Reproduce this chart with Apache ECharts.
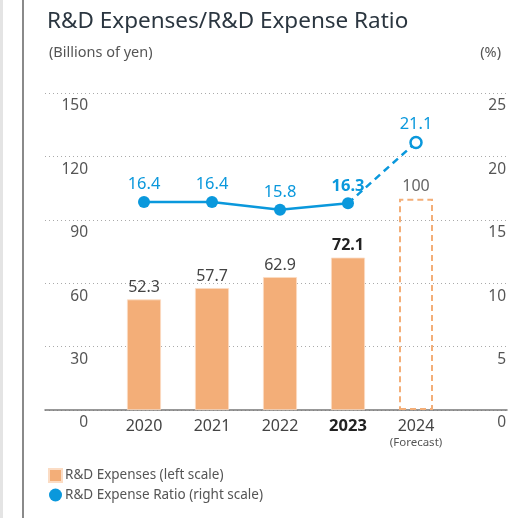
<!DOCTYPE html>
<html><head><meta charset="utf-8">
<script src="https://cdn.jsdelivr.net/npm/echarts@6/dist/echarts.min.js"></script>
<style>html,body{margin:0;padding:0;background:#fff}#c{width:513px;height:518px}</style>
</head><body><div id="c"></div>
<script>
const years = ['2020','2021','2022','2023','2024'];
const expenses = [52.3, 57.7, 62.9, 72.1, 100];
const ratio = [16.4, 16.4, 15.8, 16.3, 21.1];
const leftTicks = [0, 30, 60, 90, 120, 150];
const rightTicks = [0, 5, 10, 15, 20, 25];

const FONT = "'Noto Sans', 'Open Sans', sans-serif";
const ORANGE = '#f3ae78';
const BLUE = '#0a98dc';
const GRAY = '#555';
const boldIdx = 3, fcIdx = 4;

const chart = echarts.init(document.getElementById('c'));
const gTop = 93, gBottom = 108;

const barData = expenses.map((v, i) => {
  if (i === fcIdx) return {value: v, itemStyle: {color: 'rgba(255,255,255,0)', borderColor: ORANGE, borderWidth: 2, borderType: [6, 4]}, label: {color: '#666'}};
  if (i === boldIdx) return {value: v, label: {fontWeight: 'bold', color: '#222'}};
  return v;
});
const solidLine = ratio.map((v, i) => {
  if (i === fcIdx) return null;
  if (i === boldIdx) return {value: v, label: {fontWeight: 'bold'}};
  return v;
});
const dashLine = ratio.map((v, i) => {
  if (i < boldIdx) return null;
  if (i === boldIdx) return {value: v, symbol: 'none', label: {show: false}};
  return v;
});

chart.setOption({
  animation: false,
  textStyle: {fontFamily: FONT},
  title: [
    {text: 'R&D Expenses/R&D Expense Ratio', left: 42, top: 5, textStyle: {fontSize: 22.5, fontWeight: 'normal', color: '#2b3640', fontFamily: FONT}},
    {text: '(Billions of yen)', left: 44, top: 40, textStyle: {fontSize: 14.5, fontWeight: 'normal', color: GRAY, fontFamily: FONT}},
    {text: '(%)', right: 7, top: 40, textStyle: {fontSize: 14.5, fontWeight: 'normal', color: GRAY, fontFamily: FONT}}
  ],
  legend: {
    orient: 'vertical', left: 43, top: 463, itemGap: 5, itemWidth: 13, itemHeight: 13,
    textStyle: {fontSize: 13.5, color: GRAY, fontFamily: FONT, padding: [0, 0, 0, -2]},
    data: [
      {name: 'R&D Expenses (left scale)', icon: 'rect'},
      {name: 'R&D Expense Ratio (right scale)', icon: 'circle', itemStyle: {color: BLUE, borderWidth: 0}}
    ]
  },
  graphic: [
    {type: 'rect', shape: {x: 0, y: 0, width: 3, height: 518}, style: {fill: '#e4e4e4'}, silent: true},
    {type: 'rect', shape: {x: 22, y: 0, width: 2, height: 518}, style: {fill: '#8a8a8a'}, silent: true}
  ],
  grid: [
    {left: 45, right: 6, top: gTop, bottom: gBottom},
    {left: 110, right: 63, top: gTop, bottom: gBottom}
  ],
  xAxis: [
    {gridIndex: 0, type: 'category', data: [''], axisLine: {lineStyle: {color: '#777', width: 1.5}}, axisTick: {show: false}, axisLabel: {show: false}},
    {gridIndex: 1, type: 'category', data: years, axisLine: {show: false}, axisTick: {show: false},
      axisLabel: {interval: 0, margin: 6, fontSize: 16, color: '#444', fontFamily: FONT,
        formatter: (v, i) => i === boldIdx ? '{b|' + v + '}' : (i === fcIdx ? v + '\n{f|(Forecast)}' : v),
        lineHeight: 20,
        rich: {b: {fontSize: 16.5, fontWeight: 'bold', color: '#222', fontFamily: FONT}, f: {fontSize: 11.5, color: GRAY, lineHeight: 14, fontFamily: FONT}}}}
  ],
  yAxis: [
    {gridIndex: 0, type: 'value', min: leftTicks[0], max: leftTicks[leftTicks.length - 1], interval: 30, position: 'left',
      axisLine: {show: false}, axisTick: {show: false},
      splitLine: {show: true, lineStyle: {type: [1, 3], color: '#aaa', width: 1}},
      axisLabel: {inside: true, margin: 43, align: 'right', verticalAlign: 'top', padding: [5, 0, 0, 0], fontSize: 15.5, color: GRAY, fontFamily: FONT}},
    {gridIndex: 0, type: 'value', min: rightTicks[0], max: rightTicks[rightTicks.length - 1], interval: 5, position: 'right',
      axisLine: {show: false}, axisTick: {show: false}, splitLine: {show: false},
      axisLabel: {inside: true, margin: 1, align: 'right', verticalAlign: 'top', padding: [5, 0, 0, 0], fontSize: 15.5, color: GRAY, fontFamily: FONT}},
    {gridIndex: 1, type: 'value', min: 0, max: 150, show: false},
    {gridIndex: 1, type: 'value', min: 0, max: 25, show: false}
  ],
  series: [
    {name: 'R&D Expenses (left scale)', type: 'bar', xAxisIndex: 1, yAxisIndex: 2, data: barData, barWidth: 34,
      itemStyle: {color: ORANGE, borderColor: '#fbdcc4', borderWidth: 0.8},
      label: {show: true, position: 'top', distance: 4, fontSize: 16, color: '#444', fontFamily: FONT}},
    {name: 'R&D Expense Ratio (right scale)', type: 'line', xAxisIndex: 1, yAxisIndex: 3, data: solidLine,
      symbol: 'circle', symbolSize: 12, lineStyle: {color: BLUE, width: 2.5}, itemStyle: {color: BLUE},
      label: {show: true, position: 'top', distance: 3, fontSize: 16.5, color: BLUE, fontFamily: FONT}, z: 5},
    {name: 'ratio-forecast', type: 'line', xAxisIndex: 1, yAxisIndex: 3, data: dashLine,
      symbol: 'circle', symbolSize: 11, lineStyle: {color: BLUE, width: 2.5, type: [7, 5]},
      itemStyle: {color: '#fff', borderColor: BLUE, borderWidth: 2.5},
      label: {show: true, position: 'top', distance: 3, fontSize: 16.5, color: BLUE, fontFamily: FONT}, z: 5}
  ]
});
</script></body></html>
